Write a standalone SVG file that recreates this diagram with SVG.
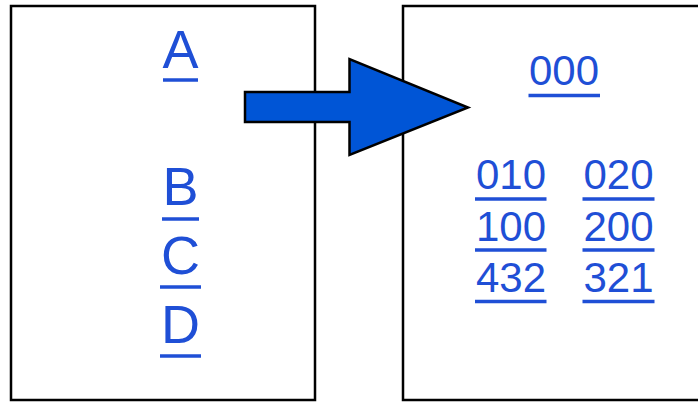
<svg xmlns="http://www.w3.org/2000/svg" width="698" height="403" viewBox="0 0 698 403">
<style>
.box{fill:#fff;stroke:#000;stroke-width:2.5}
.t{font-family:"Liberation Sans",Arial,sans-serif;fill:#1f4fd6;text-anchor:middle}
.big{font-size:54px}
.num{font-size:42px}
.u{stroke:#1f4fd6;stroke-width:3.5}
.arrow{fill:#0055d6;stroke:#000;stroke-width:2.5;stroke-linejoin:miter}
</style>
<rect width="698" height="403" fill="#fff"/>
<g id="left">
<rect class="box" x="11" y="6" width="304" height="394"/>
<text class="t big" x="180.5" y="68">A</text>
<line class="u" x1="163" y1="80" x2="198" y2="80"/>
<text class="t big" x="180.5" y="205">B</text>
<line class="u" x1="162" y1="219" x2="199" y2="219"/>
<text class="t big" x="180.5" y="274">C</text>
<line class="u" x1="160" y1="287" x2="201" y2="287"/>
<text class="t big" x="180.5" y="343">D</text>
<line class="u" x1="160" y1="356" x2="201" y2="356"/>
</g>
<g id="right">
<rect class="box" x="403" y="6" width="310" height="394"/>
<text class="t num" x="564" y="85">000</text>
<line class="u" x1="528.5" y1="95.5" x2="600" y2="95.5"/>
<text class="t num" x="511" y="189">010</text>
<line class="u" x1="475" y1="199" x2="546.5" y2="199"/>
<text class="t num" x="511" y="240.5">100</text>
<line class="u" x1="475" y1="250" x2="546.5" y2="250"/>
<text class="t num" x="511" y="291.5">432</text>
<line class="u" x1="475" y1="301.5" x2="546.5" y2="301.5"/>
<text class="t num" x="618.5" y="189">020</text>
<line class="u" x1="582.5" y1="199" x2="654.5" y2="199"/>
<text class="t num" x="618.5" y="240.5">200</text>
<line class="u" x1="582.5" y1="250" x2="654.5" y2="250"/>
<text class="t num" x="618.5" y="291.5">321</text>
<line class="u" x1="582.5" y1="301.5" x2="654.5" y2="301.5"/>
</g>
<g id="connectors">
<polygon class="arrow" points="245,92 349.5,92 349.5,59 468,107.5 349.5,155 349.5,122 245,122"/>
</g>
</svg>
